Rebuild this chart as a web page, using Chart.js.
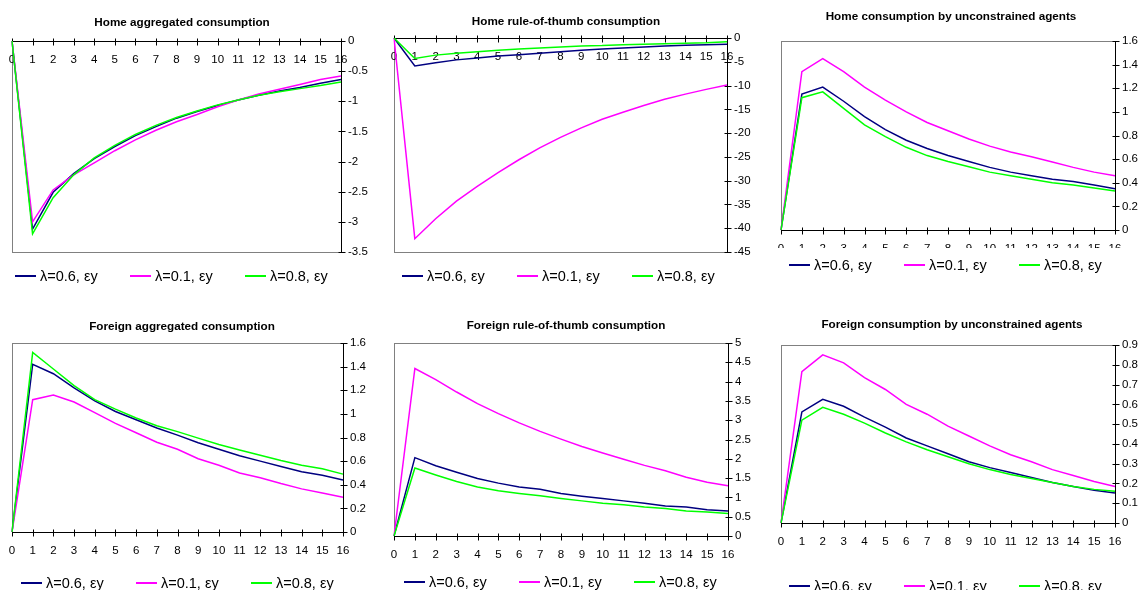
<!DOCTYPE html>
<html>
<head>
<meta charset="utf-8">
<script src="https://cdn.jsdelivr.net/npm/chart.js@4.4.0/dist/chart.umd.min.js"></script>
<style>
  body { margin: 0; background: #fff; width: 1141px; height: 590px; position: relative; overflow: hidden;
         font-family: 'Liberation Sans', Arial, sans-serif; color: #000; }
  canvas { position: absolute; }
  .title { position: absolute; font-weight: bold; font-size: 11.7px; white-space: nowrap; transform: translate(-50%, -50%); }
  .legend { position: absolute; height: 0; }
  .legend .item { position: absolute; top: 0; white-space: nowrap; font-size: 14.5px; transform: translateY(-50%);
                  display: flex; align-items: center; }
  .legend .swatch { display: inline-block; width: 21px; height: 2px; margin-right: 4px; }
</style>
</head>
<body>
<script>
// periods after the shock
const periods = ['0', '1', '2', '3', '4', '5', '6', '7', '8', '9', '10', '11', '12', '13', '14', '15', '16'];
const seriesLabels = ['λ=0.6, εy', 'λ=0.1, εy', 'λ=0.8, εy'];
const seriesColors = ['#000080', '#ff00ff', '#00ff00'];

// Home aggregated consumption
const homeAggL06 = [0, -3.12, -2.51, -2.2, -1.95, -1.75, -1.57, -1.42, -1.28, -1.17, -1.07, -0.98, -0.9, -0.83, -0.77, -0.7, -0.64];
const homeAggL01 = [0, -3.0, -2.47, -2.22, -2.02, -1.82, -1.64, -1.48, -1.34, -1.22, -1.09, -0.98, -0.88, -0.8, -0.72, -0.64, -0.58];
const homeAggL08 = [0, -3.2, -2.6, -2.22, -1.94, -1.73, -1.55, -1.4, -1.27, -1.16, -1.06, -0.98, -0.9, -0.84, -0.79, -0.74, -0.68];
const homeAggTicks = [0, -0.5, -1, -1.5, -2, -2.5, -3, -3.5];

// Home rule-of-thumb consumption
const homeRotL06 = [0, -5.9, -5.2, -4.6, -4.2, -3.8, -3.5, -3.2, -2.9, -2.6, -2.3, -2.1, -1.9, -1.7, -1.5, -1.4, -1.3];
const homeRotL01 = [0, -42.2, -38.0, -34.3, -31.2, -28.3, -25.6, -23.1, -20.9, -18.9, -17.1, -15.6, -14.2, -12.9, -11.8, -10.8, -9.9];
const homeRotL08 = [0, -4.3, -3.6, -3.2, -2.9, -2.6, -2.3, -2.1, -1.9, -1.7, -1.6, -1.4, -1.3, -1.2, -1.1, -1.0, -0.8];
const homeRotTicks = [0, -5, -10, -15, -20, -25, -30, -35, -40, -45];

// Home consumption by unconstrained agents
const homeUncL06 = [0, 1.15, 1.21, 1.09, 0.96, 0.85, 0.76, 0.69, 0.63, 0.58, 0.53, 0.49, 0.46, 0.43, 0.41, 0.38, 0.35];
const homeUncL01 = [0, 1.34, 1.45, 1.34, 1.21, 1.1, 1.0, 0.91, 0.84, 0.77, 0.71, 0.66, 0.62, 0.575, 0.53, 0.49, 0.46];
const homeUncL08 = [0, 1.12, 1.17, 1.03, 0.89, 0.79, 0.7, 0.63, 0.58, 0.535, 0.49, 0.46, 0.43, 0.4, 0.38, 0.355, 0.33];
const homeUncTicks = [0, 0.2, 0.4, 0.6, 0.8, 1, 1.2, 1.4, 1.6];

// Foreign aggregated consumption
const forAggL06 = [0, 1.42, 1.34, 1.22, 1.11, 1.02, 0.95, 0.88, 0.82, 0.755, 0.7, 0.645, 0.6, 0.555, 0.51, 0.48, 0.44];
const forAggL01 = [0, 1.12, 1.16, 1.1, 1.01, 0.92, 0.84, 0.76, 0.7, 0.62, 0.565, 0.5, 0.46, 0.41, 0.365, 0.33, 0.295];
const forAggL08 = [0, 1.52, 1.38, 1.24, 1.12, 1.04, 0.965, 0.9, 0.85, 0.795, 0.74, 0.695, 0.65, 0.605, 0.565, 0.535, 0.49];
const forAggTicks = [0, 0.2, 0.4, 0.6, 0.8, 1, 1.2, 1.4, 1.6];

// Foreign rule-of-thumb consumption
const forRotL06 = [0, 2.03, 1.82, 1.65, 1.49, 1.37, 1.27, 1.21, 1.1, 1.03, 0.97, 0.91, 0.85, 0.78, 0.75, 0.68, 0.65];
const forRotL01 = [0, 4.34, 4.05, 3.73, 3.43, 3.17, 2.93, 2.71, 2.51, 2.32, 2.15, 1.99, 1.83, 1.69, 1.52, 1.39, 1.3];
const forRotL08 = [0, 1.76, 1.58, 1.41, 1.27, 1.17, 1.1, 1.04, 0.97, 0.91, 0.85, 0.81, 0.75, 0.71, 0.65, 0.62, 0.58];
const forRotTicks = [0, 0.5, 1, 1.5, 2, 2.5, 3, 3.5, 4, 4.5, 5];

// Foreign consumption by unconstrained agents
const forUncL06 = [0, 0.562, 0.625, 0.59, 0.535, 0.485, 0.43, 0.39, 0.35, 0.31, 0.28, 0.255, 0.23, 0.205, 0.185, 0.165, 0.152];
const forUncL01 = [0, 0.765, 0.85, 0.81, 0.735, 0.675, 0.6, 0.55, 0.49, 0.44, 0.39, 0.345, 0.31, 0.27, 0.24, 0.21, 0.185];
const forUncL08 = [0, 0.52, 0.585, 0.55, 0.505, 0.455, 0.41, 0.37, 0.335, 0.3, 0.27, 0.245, 0.225, 0.205, 0.185, 0.17, 0.16];
const forUncTicks = [0, 0.1, 0.2, 0.3, 0.4, 0.5, 0.6, 0.7, 0.8, 0.9];

Chart.defaults.font.family = "'Liberation Sans', Arial, sans-serif";
Chart.defaults.font.size = 11.5;
Chart.defaults.color = '#000';

// grey plot-area frame plus cross tick marks on both axes
const frameAndTicks = {
  id: 'frameAndTicks',
  beforeDraw(chart) {
    const { ctx, chartArea: a } = chart;
    ctx.save();
    ctx.strokeStyle = '#808080';
    ctx.lineWidth = 1;
    ctx.strokeRect(Math.round(a.left) + 0.5, Math.round(a.top) + 0.5, Math.round(a.width), Math.round(a.height));
    ctx.restore();
  },
  beforeDatasetsDraw(chart) {
    const { ctx, scales: { x, y } } = chart;
    const axisY = Math.round(y.getPixelForValue(0)) + 0.5;
    const axisX = Math.round(chart.chartArea.right) + 0.5;
    ctx.save();
    ctx.strokeStyle = '#000';
    ctx.lineWidth = 1;
    ctx.beginPath();
    x.ticks.forEach((t, i) => {
      const px = Math.round(x.getPixelForTick(i)) + 0.5;
      ctx.moveTo(px, axisY - 3);
      ctx.lineTo(px, axisY + 4);
    });
    y.ticks.forEach((t, i) => {
      const py = Math.round(y.getPixelForTick(i)) + 0.5;
      ctx.moveTo(axisX - 3, py);
      ctx.lineTo(axisX + 4, py);
    });
    ctx.stroke();
    ctx.restore();
  }
};

const panels = [
  { title: 'Home aggregated consumption', series: [homeAggL06, homeAggL01, homeAggL08], ticks: homeAggTicks,
    cell: { x: 0, y: 0, w: 380, h: 300 }, plot: { l: 12, t: 41, r: 341, b: 252 },
    titlePos: { x: 182, y: 20.5 }, legendPos: { x: 15, y: 276 } },
  { title: 'Home rule-of-thumb consumption', series: [homeRotL06, homeRotL01, homeRotL08], ticks: homeRotTicks,
    cell: { x: 380, y: 0, w: 380, h: 300 }, plot: { l: 394, t: 38, r: 727, b: 252 },
    titlePos: { x: 566, y: 19.5 }, legendPos: { x: 402, y: 276 } },
  { title: 'Home consumption by unconstrained agents', series: [homeUncL06, homeUncL01, homeUncL08], ticks: homeUncTicks,
    cell: { x: 760, y: 0, w: 381, h: 248 }, plot: { l: 781, t: 41, r: 1115, b: 230 },
    titlePos: { x: 951, y: 15 }, legendPos: { x: 789, y: 265 } },
  { title: 'Foreign aggregated consumption', series: [forAggL06, forAggL01, forAggL08], ticks: forAggTicks,
    cell: { x: 0, y: 300, w: 380, h: 290 }, plot: { l: 12, t: 343, r: 343, b: 532 },
    titlePos: { x: 182, y: 325 }, legendPos: { x: 21, y: 583 } },
  { title: 'Foreign rule-of-thumb consumption', series: [forRotL06, forRotL01, forRotL08], ticks: forRotTicks,
    cell: { x: 380, y: 300, w: 380, h: 290 }, plot: { l: 394, t: 343, r: 728, b: 536 },
    titlePos: { x: 566, y: 324 }, legendPos: { x: 404, y: 582 } },
  { title: 'Foreign consumption by unconstrained agents', series: [forUncL06, forUncL01, forUncL08], ticks: forUncTicks,
    cell: { x: 760, y: 300, w: 381, h: 290 }, plot: { l: 781, t: 345, r: 1115, b: 523 },
    titlePos: { x: 952, y: 323 }, legendPos: { x: 789, y: 586 } }
];

function buildPanel(p) {
  const canvas = document.createElement('canvas');
  canvas.width = p.cell.w;
  canvas.height = p.cell.h;
  canvas.style.left = p.cell.x + 'px';
  canvas.style.top = p.cell.y + 'px';
  document.body.appendChild(canvas);

  const axisWidth = p.cell.x + p.cell.w - p.plot.r;
  const chart = new Chart(canvas, {
    type: 'line',
    data: {
      labels: periods,
      datasets: p.series.map((d, i) => ({
        label: seriesLabels[i],
        data: d,
        borderColor: seriesColors[i],
        backgroundColor: seriesColors[i],
        borderWidth: 1.5,
        pointRadius: 0,
        tension: 0,
        order: 3 - i
      }))
    },
    options: {
      responsive: false,
      animation: false,
      events: [],
      layout: {
        autoPadding: false,
        padding: { left: p.plot.l - p.cell.x, top: p.plot.t - p.cell.y, right: 0, bottom: p.cell.y + p.cell.h - p.plot.b }
      },
      plugins: { legend: { display: false }, title: { display: false }, tooltip: { enabled: false } },
      scales: {
        x: {
          type: 'category',
          position: { y: 0 },
          offset: false,
          // tick marks are drawn by the plugin; tickLength only spaces the labels
          grid: { display: false, drawTicks: true, tickLength: 9 },
          border: { display: true, color: '#000', width: 1 },
          ticks: { autoSkip: false, maxRotation: 0, padding: 3 }
        },
        y: {
          position: 'right',
          min: Math.min(...p.ticks),
          max: Math.max(...p.ticks),
          grid: { display: false, drawTicks: true, tickLength: 4 },
          border: { display: true, color: '#000', width: 1 },
          afterBuildTicks: s => { s.ticks = [...p.ticks].sort((a, b) => a - b).map(v => ({ value: v })); },
          afterFit: s => { s.width = axisWidth; },
          ticks: { padding: 3, callback: v => String(Number(v.toFixed(3))) }
        }
      }
    },
    plugins: [frameAndTicks]
  });

  const title = document.createElement('div');
  title.className = 'title';
  title.style.left = p.titlePos.x + 'px';
  title.style.top = p.titlePos.y + 'px';
  title.textContent = p.title;
  document.body.appendChild(title);

  // legend built from the chart's own datasets
  const legend = document.createElement('div');
  legend.className = 'legend';
  legend.style.left = p.legendPos.x + 'px';
  legend.style.top = p.legendPos.y + 'px';
  chart.data.datasets.forEach((ds, i) => {
    const item = document.createElement('div');
    item.className = 'item';
    item.style.left = (i * 115) + 'px';
    const sw = document.createElement('span');
    sw.className = 'swatch';
    sw.style.background = ds.borderColor;
    item.appendChild(sw);
    item.appendChild(document.createTextNode(ds.label));
    legend.appendChild(item);
  });
  document.body.appendChild(legend);
}

panels.forEach(buildPanel);
</script>
</body>
</html>
